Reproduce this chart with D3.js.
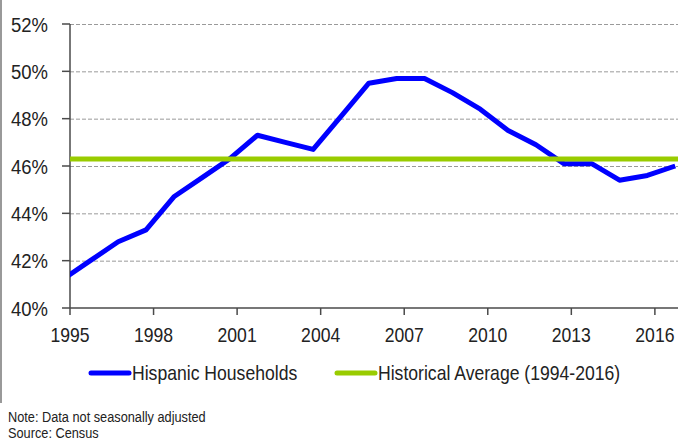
<!DOCTYPE html>
<html lang="en">
<head>
  <meta charset="utf-8">
  <title>hispanic homeownership</title>
  <style>
  * { margin:0; padding:0; }
  body { background:#fff; }
  svg text {
    font-family: "Liberation Sans", Arial, sans-serif;
    fill: #222;
  }
  .grid line { stroke:#9a9a9a; stroke-width:1; stroke-dasharray:4,2; }
  .axis { stroke:#4a4a4a; stroke-width:1.5; }
  </style>
  <script src="https://d3js.org/d3.v7.min.js"></script>
</head>
<body>
  <div id="chart"></div>
  <script type="text/javascript">
  // annual homeownership rate, Hispanic households (%)
  var years=[1994,1995,1996,1997,1998,1999,2000,2001,2002,2003,2004,2005,
             2006,2007,2008,2009,2010,2011,2012,2013,2014,2015,2016];
  var hispanic=[41.2,42.0,42.8,43.3,44.7,45.5,46.3,47.3,47.0,46.7,48.1,49.5,
                49.7,49.7,49.1,48.4,47.5,46.9,46.1,46.1,45.4,45.6,46.0];
  var histAvg=46.3;
  var yTicks=[40,42,44,46,48,50,52];
  var xTicks=[1995,1998,2001,2004,2007,2010,2013,2016];
  var legendNames=["Hispanic Households","Historical Average (1994-2016)"];
  var colors=["#0000ff","#99cc00"];

  var w=692, h=440;
  var sq=0.88; // squeeze text sideways, the original uses a condensed face
  var svg=d3.select("#chart").append("svg")
    .attr("width",w)
    .attr("height",h);

  function at(px,py){ return "translate("+px+","+py+") scale("+sq+",1)"; }

  // frame edge on the left
  svg.append("line")
    .attr("x1",1).attr("x2",1).attr("y1",0).attr("y2",403)
    .style("stroke","#777").style("stroke-width",1.5);

  var x=d3.scaleLinear().domain([1995,2016.83]).range([70,678]);
  var y=d3.scaleLinear().domain([40,52]).range([308,24]);
  var off=0.73; // the points sit late in each year on the date axis

  svg.append("clipPath").attr("id","plot")
    .append("rect").attr("x",70).attr("y",0).attr("width",608).attr("height",320);

  // gridlines
  svg.append("g").attr("class","grid")
    .selectAll("line")
    .data(yTicks.filter(function(d){return d>40;}))
    .enter().append("line")
    .attr("x1",x(1995)).attr("x2",x(2016.83))
    .attr("y1",function(d){return y(d)+0.5;})
    .attr("y2",function(d){return y(d)+0.5;});

  // y axis
  svg.append("line").attr("class","axis")
    .attr("x1",70).attr("x2",70).attr("y1",y(52)).attr("y2",y(40));
  svg.selectAll(".ytick").data(yTicks).enter().append("line")
    .attr("class","axis")
    .attr("x1",62).attr("x2",70)
    .attr("y1",function(d){return y(d);})
    .attr("y2",function(d){return y(d);});
  svg.selectAll(".ylab").data(yTicks).enter().append("text")
    .attr("transform",function(d){return at(48,y(d));})
    .attr("dy","0.36em")
    .attr("text-anchor","end")
    .style("font-size","21px")
    .text(function(d){return d+"%";});

  // x axis
  svg.append("line").attr("class","axis")
    .attr("x1",x(1995)).attr("x2",x(2016.83)).attr("y1",y(40)).attr("y2",y(40));
  svg.selectAll(".xtick").data(xTicks).enter().append("line")
    .attr("class","axis")
    .attr("x1",function(d){return x(d);})
    .attr("x2",function(d){return x(d);})
    .attr("y1",y(40)).attr("y2",y(40)+7);
  svg.selectAll(".xlab").data(xTicks).enter().append("text")
    .attr("transform",function(d){return at(x(d),342);})
    .attr("text-anchor","middle")
    .style("font-size","20px")
    .text(function(d){return d;});

  // series
  var line=d3.line()
    .x(function(d,i){return x(years[i]+off);})
    .y(function(d){return y(d);});
  svg.append("path")
    .datum(hispanic)
    .attr("clip-path","url(#plot)")
    .attr("d",line)
    .style("fill","none")
    .style("stroke",colors[0])
    .style("stroke-width",5)
    .style("stroke-linejoin","round");

  svg.append("line")
    .attr("x1",x(1995)).attr("x2",x(2016.83))
    .attr("y1",y(histAvg)).attr("y2",y(histAvg))
    .style("stroke",colors[1])
    .style("stroke-width",5);

  // legend
  var legX=[91,337];
  var leg=svg.selectAll(".leg").data(legendNames).enter().append("g")
    .attr("transform",function(d,i){return "translate("+legX[i]+",373)";});
  leg.append("line")
    .attr("x1",0).attr("x2",38).attr("y1",0).attr("y2",0)
    .style("stroke",function(d,i){return colors[i];})
    .style("stroke-width",5)
    .style("stroke-linecap","round");
  leg.append("text")
    .attr("transform",at(41,7))
    .style("font-size","20px")
    .text(function(d){return d;});

  // notes
  svg.append("text").attr("transform",at(8,422))
    .style("font-size","14.5px").text("Note: Data not seasonally adjusted");
  svg.append("text").attr("transform",at(8,437.5))
    .style("font-size","14.5px").text("Source: Census");
  </script>
</body>
</html>
